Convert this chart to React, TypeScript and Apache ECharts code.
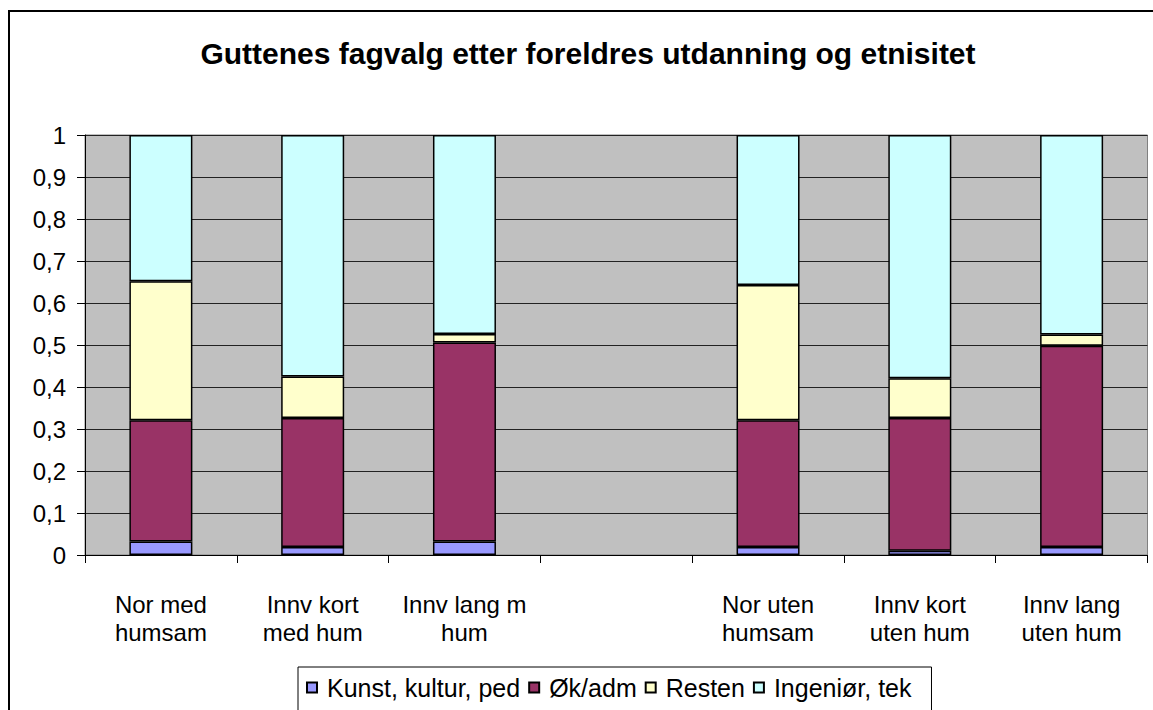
import React, { useEffect, useRef } from "react";
import * as echarts from "echarts";

const titleText = "Guttenes fagvalg etter foreldres utdanning og etnisitet";
const categories = [
  "Nor med\nhumsam",
  "Innv kort\nmed hum",
  "Innv lang m\nhum",
  "",
  "Nor uten\nhumsam",
  "Innv kort\nuten hum",
  "Innv lang\nuten hum",
];
const seriesNames = ["Kunst, kultur, ped", "Øk/adm", "Resten", "Ingeniør, tek"];
const kunst = [0.032, 0.019, 0.032, null, 0.019, 0.01, 0.019];
const okAdm = [0.289, 0.307, 0.474, null, 0.302, 0.316, 0.479];
const resten = [0.331, 0.099, 0.02, null, 0.322, 0.095, 0.027];
const ingenior = [0.348, 0.575, 0.474, null, 0.357, 0.579, 0.475];
const seriesColors = ["#9999FF", "#993366", "#FFFFCC", "#CCFFFF"];

const FONT = "'Liberation Sans', Arial, sans-serif";

export default function App() {
  const ref = useRef<HTMLDivElement>(null);
  useEffect(() => {
    if (!ref.current) return;
    const chart = echarts.init(ref.current, undefined, { renderer: "svg" });
    const data = [kunst, okAdm, resten, ingenior];
    chart.setOption({
      animation: false,
      backgroundColor: "#FFFFFF",
      textStyle: { fontFamily: FONT },
      graphic: [
        {
          type: "rect",
          shape: { x: 9, y: 11, width: 1300, height: 900 },
          style: { fill: "none", stroke: "#000", lineWidth: 2 },
          z: -10,
          silent: true,
        },
        {
          type: "text",
          x: 588,
          y: 53,
          style: {
            text: titleText,
            fontFamily: FONT,
            fontSize: 30,
            fontWeight: "bold",
            fill: "#000",
            textAlign: "center",
            textVerticalAlign: "middle",
          },
        },
      ],
      grid: {
        left: 85,
        top: 135,
        right: 5.5,
        bottom: 155,
        show: true,
        backgroundColor: "#C0C0C0",
        borderColor: "#808080",
        borderWidth: 1,
      },
      legend: {
        left: 298,
        top: 667,
        orient: "horizontal",
        data: seriesNames,
        icon: "rect",
        itemWidth: 10,
        itemHeight: 10,
        itemGap: 8,
        padding: [8, 20, 20, 8],
        backgroundColor: "#FFFFFF",
        borderColor: "#000",
        borderWidth: 1,
        textStyle: {
          fontFamily: FONT,
          fontSize: 25,
          color: "#000",
          padding: [0, 0, 0, 5],
        },
      },
      xAxis: {
        type: "category",
        data: categories,
        axisLine: { show: true, lineStyle: { color: "#000", width: 1 } },
        axisTick: {
          show: true,
          interval: 0,
          length: 8,
          alignWithLabel: false,
          lineStyle: { color: "#000" },
        },
        axisLabel: {
          interval: 0,
          fontFamily: FONT,
          fontSize: 24,
          lineHeight: 28,
          color: "#000",
          margin: 35,
        },
        splitLine: { show: false },
      },
      yAxis: {
        type: "value",
        min: 0,
        max: 1,
        interval: 0.1,
        axisLine: { show: true, lineStyle: { color: "#000", width: 1 } },
        axisTick: { show: true, length: 8, lineStyle: { color: "#000" } },
        axisLabel: {
          fontFamily: FONT,
          fontSize: 24,
          color: "#000",
          margin: 19,
          formatter: (v: number) => String(Number(v.toFixed(1))).replace(".", ","),
        },
        splitLine: { show: true, lineStyle: { color: "#222", width: 1 } },
      },
      series: seriesNames.map((name, i) => ({
        name,
        type: "bar",
        stack: "total",
        barWidth: 63,
        data: data[i],
        itemStyle: {
          color: seriesColors[i],
          borderColor: "#000",
          borderWidth: 1.5,
        },
        emphasis: { disabled: true },
      })),
    });
    return () => chart.dispose();
  }, []);
  return (
    <div
      ref={ref}
      style={{ position: "absolute", left: 0, top: 0, width: 1153, height: 710 }}
    />
  );
}
